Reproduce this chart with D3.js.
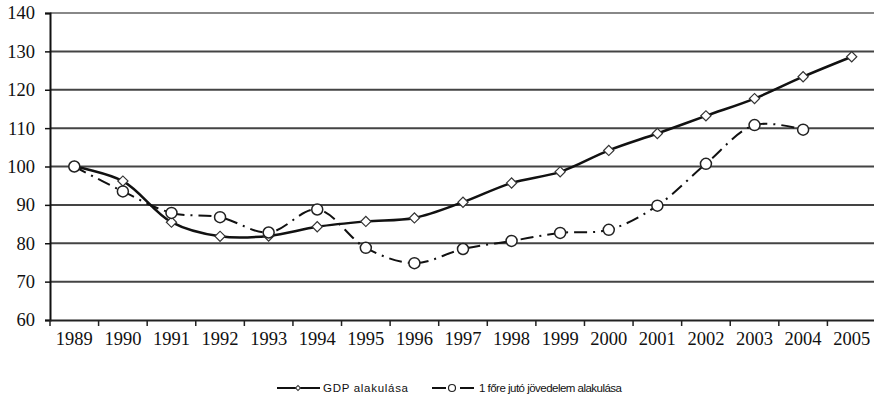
<!DOCTYPE html>
<head>
    <meta charset="utf-8">
    <title>GDP es jovedelem</title>
    <script src="https://cdn.jsdelivr.net/npm/d3@7"></script>
</head>
<style>
    body { margin: 0; background: #fff; }
    .tick text { font-family: "Liberation Serif", "Times New Roman", serif; font-size: 18.5px; fill: #111; }
    .legend text { font-family: "Liberation Sans", Arial, sans-serif; font-size: 11.5px; fill: #111; }
</style>
<body>
    <svg></svg>
</body>

<script>
    var vWidth = 874;
    var vHeight = 403;

    var years = ['1989', '1990', '1991', '1992', '1993', '1994', '1995', '1996', '1997',
        '1998', '1999', '2000', '2001', '2002', '2003', '2004', '2005'];
    var gdpValues = [100, 96.2, 85.5, 81.8, 81.9, 84.3, 85.7, 86.6, 90.7, 95.7, 98.6,
        104.2, 108.6, 113.2, 117.7, 123.4, 128.6];
    var incomeValues = [100, 93.5, 87.9, 86.8, 82.8, 88.8, 78.8, 74.8, 78.5, 80.6, 82.7,
        83.5, 89.8, 100.7, 110.8, 109.6];
    var yTicks = [60, 70, 80, 90, 100, 110, 120, 130, 140];
    var legendLabels = ['GDP alakulása', '1 főre jutó jövedelem alakulása'];

    var svg = d3.select('svg')
        .attr('width', vWidth)
        .attr('height', vHeight);

    // scales
    var x = d3.scaleBand().domain(years).range([50, 876]);
    var y = d3.scaleLinear().domain([60, 140]).range([320, 13]);
    var cx = function (d, i) { return x(years[i]) + x.bandwidth() / 2; };

    // gridlines
    svg.append('g').selectAll('line')
        .data(yTicks.slice(1))
        .enter().append('line')
        .attr('x1', 50).attr('x2', vWidth)
        .attr('y1', function (d) { return y(d); })
        .attr('y2', function (d) { return y(d); })
        .attr('stroke', function (d) { return d === 140 ? '#888' : '#444'; })
        .attr('stroke-width', 2);

    // y axis
    var yAxis = svg.append('g')
        .attr('transform', 'translate(50,0)')
        .call(d3.axisLeft(y).tickValues(yTicks).tickSize(5).tickPadding(10));
    yAxis.select('.domain').attr('stroke', '#111').attr('stroke-width', 2);
    yAxis.selectAll('.tick line').attr('stroke', '#111').attr('stroke-width', 1.5);

    // x axis, ticks on the category borders
    var xAxis = svg.append('g')
        .attr('transform', 'translate(0,320)')
        .call(d3.axisBottom(x).tickSize(0).tickPadding(12));
    xAxis.select('.domain').attr('stroke', '#222').attr('stroke-width', 2);
    xAxis.selectAll('.tick text').attr('dy', '0.71em');
    svg.append('g').selectAll('line')
        .data(years)
        .enter().append('line')
        .attr('x1', function (d) { return x(d); })
        .attr('x2', function (d) { return x(d); })
        .attr('y1', 320).attr('y2', 326)
        .attr('stroke', '#222').attr('stroke-width', 1.5);

    // lines
    var line = d3.line()
        .x(cx)
        .y(function (d) { return y(d); })
        .curve(d3.curveCatmullRom.alpha(0.5));

    svg.append('path')
        .datum(incomeValues)
        .attr('d', line)
        .attr('fill', 'none')
        .attr('stroke', '#111')
        .attr('stroke-width', 2)
        .attr('stroke-dasharray', '13,6,2,6');

    svg.append('path')
        .datum(gdpValues)
        .attr('d', line)
        .attr('fill', 'none')
        .attr('stroke', '#111')
        .attr('stroke-width', 2.5);

    // markers: square turned 45 degrees
    var diamond = d3.symbol().type(d3.symbolSquare).size(52);
    svg.append('g').selectAll('path')
        .data(gdpValues)
        .enter().append('path')
        .attr('d', diamond)
        .attr('transform', function (d, i) { return 'translate(' + cx(d, i) + ',' + y(d) + ') rotate(45)'; })
        .attr('fill', '#fff')
        .attr('stroke', '#333')
        .attr('stroke-width', 1.2);

    svg.append('g').selectAll('circle')
        .data(incomeValues)
        .enter().append('circle')
        .attr('cx', cx)
        .attr('cy', function (d) { return y(d); })
        .attr('r', 5.5)
        .attr('fill', '#fff')
        .attr('stroke', '#222')
        .attr('stroke-width', 1.5);

    // legend
    var legend = svg.append('g').attr('class', 'legend');
    legend.append('line')
        .attr('x1', 277).attr('x2', 320).attr('y1', 388).attr('y2', 388)
        .attr('stroke', '#111').attr('stroke-width', 2);
    legend.append('path')
        .attr('d', d3.symbol().type(d3.symbolSquare).size(12))
        .attr('transform', 'translate(298,388) rotate(45)')
        .attr('fill', '#fff').attr('stroke', '#333');
    legend.append('text')
        .attr('x', 323).attr('y', 392)
        .attr('textLength', 85)
        .text(legendLabels[0]);

    legend.append('line')
        .attr('x1', 432).attr('x2', 476).attr('y1', 388).attr('y2', 388)
        .attr('stroke', '#111').attr('stroke-width', 2)
        .attr('stroke-dasharray', '14,6,2,6');
    legend.append('circle')
        .attr('cx', 452).attr('cy', 388).attr('r', 3.5)
        .attr('fill', '#fff').attr('stroke', '#222').attr('stroke-width', 1.2);
    legend.append('text')
        .attr('x', 479).attr('y', 392)
        .attr('textLength', 143)
        .text(legendLabels[1]);
</script>
